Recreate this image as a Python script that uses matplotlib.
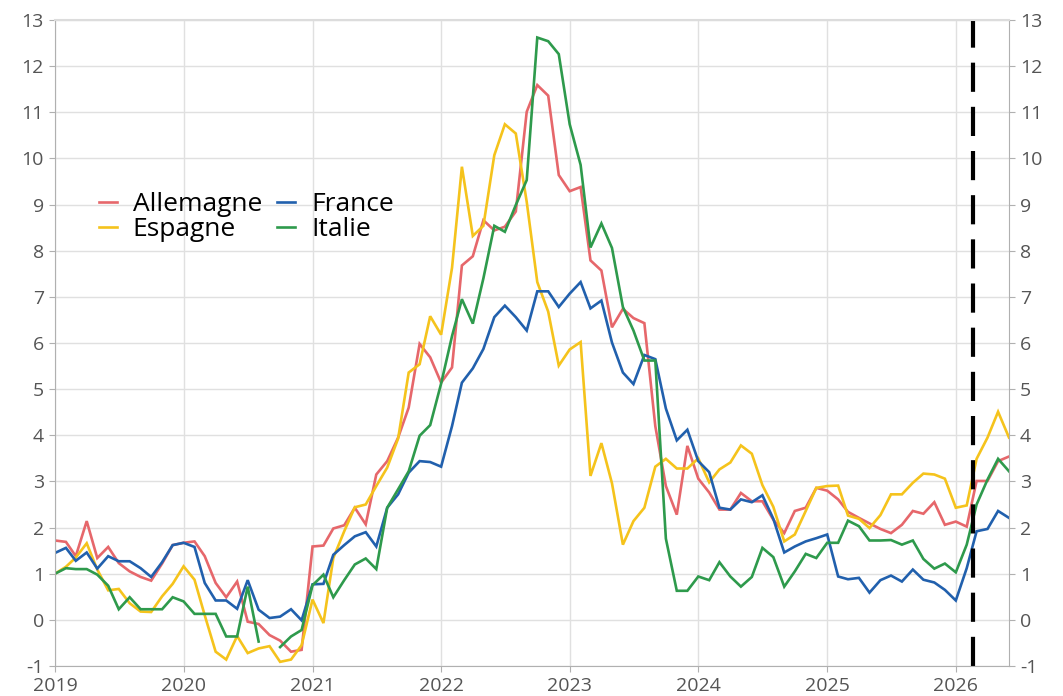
import numpy as np
import pandas as pd
import matplotlib
matplotlib.use("Agg")
import matplotlib.pyplot as plt
import matplotlib.dates as mdates

plt.rcParams['font.family'] = ['Open Sans', 'DejaVu Sans']
plt.rcParams['axes.unicode_minus'] = False

# monthly values, 2019-01 .. 2026-06
months = pd.date_range('2019-01-01', periods=90, freq='MS')

allemagne = [1.72, 1.69, 1.38, 2.14, 1.34, 1.58, 1.23, 1.05, 0.93, 0.85, 1.22, 1.62,
             1.67, 1.70, 1.38, 0.80, 0.49, 0.83, -0.04, -0.09, -0.33, -0.45, -0.69, -0.65,
             1.59, 1.61, 1.98, 2.05, 2.43, 2.07, 3.15, 3.44, 3.95, 4.60, 5.98, 5.69,
             5.14, 5.47, 7.68, 7.88, 8.66, 8.44, 8.52, 8.85, 11.01, 11.59, 11.36, 9.64,
             9.29, 9.38, 7.79, 7.57, 6.34, 6.74, 6.54, 6.43, 4.20, 2.90, 2.28, 3.77,
             3.06, 2.76, 2.39, 2.39, 2.75, 2.57, 2.57, 2.17, 1.88, 2.36, 2.43, 2.86,
             2.80, 2.61, 2.34, 2.21, 2.09, 1.97, 1.88, 2.06, 2.36, 2.30, 2.55, 2.06,
             2.13, 2.02, 3.01, 3.01, 3.44, 3.54]

france = [1.45, 1.56, 1.28, 1.46, 1.11, 1.38, 1.27, 1.27, 1.12, 0.93, 1.25, 1.62,
          1.67, 1.58, 0.80, 0.42, 0.42, 0.24, 0.86, 0.22, 0.04, 0.07, 0.23, -0.01,
          0.77, 0.78, 1.41, 1.62, 1.81, 1.90, 1.59, 2.43, 2.72, 3.19, 3.44, 3.42,
          3.32, 4.20, 5.14, 5.45, 5.87, 6.56, 6.81, 6.56, 6.27, 7.12, 7.12, 6.78,
          7.07, 7.32, 6.75, 6.92, 6.01, 5.36, 5.11, 5.74, 5.65, 4.58, 3.89, 4.12,
          3.44, 3.20, 2.43, 2.39, 2.61, 2.55, 2.70, 2.19, 1.46, 1.59, 1.70, 1.77,
          1.85, 0.94, 0.88, 0.91, 0.59, 0.86, 0.96, 0.83, 1.09, 0.87, 0.81, 0.65,
          0.42, 1.12, 1.92, 1.97, 2.36, 2.21]

espagne = [1.00, 1.15, 1.35, 1.66, 1.09, 0.64, 0.67, 0.36, 0.18, 0.17, 0.51, 0.78,
           1.16, 0.87, 0.10, -0.69, -0.86, -0.35, -0.72, -0.62, -0.57, -0.91, -0.86, -0.55,
           0.44, -0.07, 1.34, 1.92, 2.44, 2.50, 2.90, 3.30, 3.93, 5.36, 5.54, 6.58,
           6.18, 7.63, 9.82, 8.32, 8.54, 10.07, 10.74, 10.54, 9.06, 7.32, 6.68, 5.51,
           5.86, 6.02, 3.12, 3.83, 2.96, 1.63, 2.14, 2.43, 3.32, 3.49, 3.28, 3.28,
           3.50, 2.98, 3.26, 3.41, 3.78, 3.60, 2.92, 2.45, 1.70, 1.85, 2.36, 2.86,
           2.90, 2.91, 2.26, 2.19, 1.99, 2.27, 2.72, 2.72, 2.97, 3.17, 3.15, 3.06,
           2.43, 2.48, 3.49, 3.95, 4.51, 3.95]

italie = [1.00, 1.12, 1.10, 1.10, 0.98, 0.74, 0.23, 0.49, 0.23, 0.23, 0.23, 0.49,
          0.40, 0.13, 0.13, 0.13, -0.36, -0.36, 0.72, -0.47, np.nan, -0.59, -0.36, -0.22,
          0.75, 0.98, 0.49, 0.86, 1.20, 1.33, 1.10, 2.43, 2.83, 3.22, 3.99, 4.22,
          5.12, 6.15, 6.95, 6.42, 7.40, 8.54, 8.41, 8.99, 9.53, 12.62, 12.54, 12.26,
          10.74, 9.86, 8.07, 8.59, 8.06, 6.78, 6.27, 5.62, 5.62, 1.76, 0.63, 0.63,
          0.94, 0.86, 1.25, 0.94, 0.72, 0.93, 1.56, 1.36, 0.72, 1.05, 1.43, 1.34,
          1.67, 1.67, 2.15, 2.03, 1.72, 1.72, 1.73, 1.63, 1.72, 1.32, 1.11, 1.22,
          1.03, 1.63, 2.50, 3.04, 3.49, 3.22]

series = [("Allemagne", allemagne, "#e6676b"),
          ("Espagne", espagne, "#f5c31c"),
          ("France", france, "#2160ad"),
          ("Italie", italie, "#2e9a4c")]

cutoff = pd.Timestamp('2026-02-18')

fig = plt.figure(figsize=(10.63, 6.96), dpi=100)
ax = fig.add_axes([55 / 1063, 1 - 666 / 696, 954 / 1063, 646 / 696])

for name, vals, col in series:
    ax.plot(months, vals, color=col, lw=1.9, label=name, solid_joinstyle='miter')

ax.axvline(cutoff, color='black', lw=3, dashes=(7, 3.6))

ax.set_xlim(pd.Timestamp('2019-01-01'), months[-1])
ax.set_ylim(-1, 13)
ax.set_yticks(range(-1, 14))
ax.xaxis.set_major_locator(mdates.YearLocator())
ax.xaxis.set_major_formatter(mdates.DateFormatter('%Y'))

ax.grid(True, color='#e0e0e0', lw=1)
ax.set_axisbelow(True)
for side in ['left', 'bottom', 'right']:
    ax.spines[side].set_color('#b0b0b0')
ax.spines['top'].set_color('#dcdcdc')
ax.spines['top'].set_linewidth(1.5)

ax.tick_params(axis='both', colors='#b0b0b0', labelcolor='#555555',
               labelsize=14, length=4)
ax.tick_params(axis='y', right=True, labelright=True, pad=4)
ax.tick_params(axis='x', pad=4)

ax.legend(ncol=2, loc='upper left', bbox_to_anchor=(0.035, 0.750),
          frameon=False, fontsize=19, handlelength=0.68, handletextpad=0.6,
          columnspacing=0.57, labelspacing=0.0, borderaxespad=0)

fig.savefig('out.png', dpi=100)
